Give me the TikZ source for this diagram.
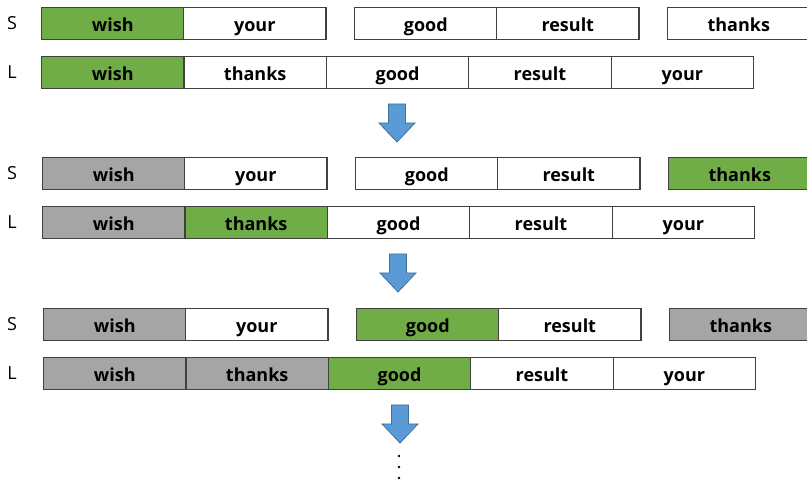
\documentclass[tikz,border=0pt]{standalone}
\usepackage{fontspec}
\setmainfont{Open Sans}
\usepackage{xcolor}
\definecolor{match}{HTML}{70AD47}
\definecolor{done}{HTML}{A5A5A5}
\definecolor{arrowfill}{HTML}{5B9BD5}
\definecolor{arrowline}{HTML}{41719C}
\usetikzlibrary{positioning}
\tikzset{cell/.style={draw=black!75, line width=1.2pt, fill=white, minimum width=142.4pt, minimum height=32pt,
		inner sep=0pt, text height=15pt, text depth=0pt, anchor=north west, font=\fontsize{18}{20}\selectfont\bfseries},
	rowlabel/.style={font=\fontsize{18}{20}\selectfont},
	pics/.cd, stepdown/.style={code={%
			\filldraw[fill=arrowfill, draw=arrowline, line width=0.8pt] (-8.5,0) -- (8.5,0) -- (8.5,19) -- (18,19)
			-- (0,38) -- (-18,19) -- (-8.5,19) -- cycle;}}}

\begin{document}
\begin{tikzpicture}[x=1pt, y=-1pt]
	\useasboundingbox (0,0) rectangle (807,481);
	
	% step 1
	\node[rowlabel] (s1) at (12,23) {S};
	\node[cell, fill=match] (s1wish) at (41,7) {wish};
	\node[cell] (s1your) at (183,7) {your};
	\node[cell] (s1good) at (354,7) {good};
	\node[cell] (s1result) at (496,7) {result};
	\node[cell] (s1thanks) at (667,7) {thanks};
	
	\node[rowlabel] (l1) at (12,72) {L};
	\node[cell, fill=match] (l1wish) at (41,56) {wish};
	\node[cell] (l1thanks) at (183.4,56) {thanks};
	\node[cell] (l1good) at (325.8,56) {good};
	\node[cell] (l1result) at (468.2,56) {result};
	\node[cell] (l1your) at (610.6,56) {your};
	
	\path (397,104) pic {stepdown};
	
	% step 2
	\node[rowlabel] (s2) at (12,173) {S};
	\node[cell, fill=done] (s2wish) at (42,157) {wish};
	\node[cell] (s2your) at (184,157) {your};
	\node[cell] (s2good) at (355,157) {good};
	\node[cell] (s2result) at (497,157) {result};
	\node[cell, fill=match] (s2thanks) at (668,157) {thanks};
	
	\node[rowlabel] (l2) at (12,222) {L};
	\node[cell, fill=done] (l2wish) at (42,206) {wish};
	\node[cell, fill=match] (l2thanks) at (184.4,206) {thanks};
	\node[cell] (l2good) at (326.8,206) {good};
	\node[cell] (l2result) at (469.2,206) {result};
	\node[cell] (l2your) at (611.6,206) {your};
	
	\path (398,254) pic {stepdown};
	
	% step 3
	\node[rowlabel] (s3) at (12,324) {S};
	\node[cell, fill=done] (s3wish) at (43,308) {wish};
	\node[cell] (s3your) at (185,308) {your};
	\node[cell, fill=match] (s3good) at (356,308) {good};
	\node[cell] (s3result) at (498,308) {result};
	\node[cell, fill=done] (s3thanks) at (669,308) {thanks};
	
	\node[rowlabel] (l3) at (12,373) {L};
	\node[cell, fill=done] (l3wish) at (43,357) {wish};
	\node[cell, fill=done] (l3thanks) at (185.4,357) {thanks};
	\node[cell, fill=match] (l3good) at (327.8,357) {good};
	\node[cell] (l3result) at (470.2,357) {result};
	\node[cell] (l3your) at (612.6,357) {your};
	
	\path (400,405) pic {stepdown};
	
	% more steps
	\foreach \y in {456,467,478}
		\fill (399,\y) circle (1.4);
\end{tikzpicture}
\end{document}
